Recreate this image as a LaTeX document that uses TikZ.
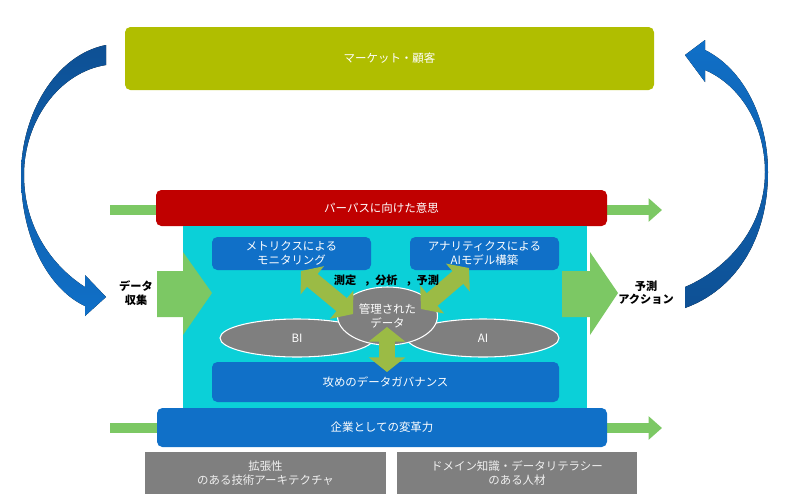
\documentclass[tikz,border=0pt]{standalone}
\usepackage{fontspec}
\setmainfont{Noto Sans CJK JP}
\usetikzlibrary{arrows.meta, positioning, shapes.geometric}
\definecolor{mkolive}{RGB}{176,190,0}
\definecolor{mkred}{RGB}{192,0,0}
\definecolor{mkcyan}{RGB}{11,208,216}
\definecolor{mkblue}{RGB}{16,112,200}
\definecolor{mkdark}{RGB}{14,80,148}
\definecolor{mkgreen}{RGB}{124,200,100}
\definecolor{mkleaf}{RGB}{155,187,69}
\definecolor{mkgray}{RGB}{127,127,127}
\tikzset{
  sz/.style 2 args={minimum width=#1*0.75pt, minimum height=#2*0.75pt},
  txt/.style={font=\fontsize{8.6}{10.4}\selectfont, text=white, align=center, inner sep=0pt},
  rbox/.style={txt, rounded corners=4pt},
  gbox/.style={txt, fill=mkgray, text=white!94!black},
  oval/.style={txt, ellipse, fill=mkgray, draw=white, line width=0.8pt},
  lbl/.style={font=\fontsize{8.4}{10}\selectfont\bfseries, align=center, inner sep=0pt},
  gbar/.style={mkgreen, line width=8pt},
  dbl/.style={mkleaf, line width=12.5pt, {Triangle[length=11pt,width=27pt]}-{Triangle[length=11pt,width=27pt]}}
}
\begin{document}
\begin{tikzpicture}[x=0.75pt, y=-0.75pt]
  \useasboundingbox (0,0) rectangle (800,501);

  % curved blue arrows
  \fill[top color=mkdark, bottom color=mkblue]
    (106,45) .. controls (55,55) and (21,115) .. (21,175)
    .. controls (21,240) and (50,290) .. (85,306) -- (85,316) -- (106,297) -- (85,275) -- (85,287)
    .. controls (55,268) and (24,230) .. (24,175)
    .. controls (24,120) and (60,72) .. (106,65) -- cycle;
  \fill[top color=mkblue, bottom color=mkdark]
    (705,50) .. controls (745,70) and (768,120) .. (768,172)
    .. controls (768,240) and (735,290) .. (685,308) -- (685,287)
    .. controls (725,270) and (765,230) .. (765,172)
    .. controls (765,125) and (740,85) .. (705,70) -- (705,82) -- (685,55) -- (705,40) -- cycle;

  % top box
  \node[rbox, sz={529}{63}, fill=mkolive] (market) at (389.5,58.5) {マーケット・顧客};

  % purpose bar
  \coordinate (barL1) at (110,210);
  \coordinate (barR1) at (662,210);
  \draw[gbar] (barL1) -- (156,210);
  \draw[gbar, -{Triangle[length=10pt,width=17pt]}] (607,210) -- (barR1);
  \node[rbox, sz={451}{36}, fill=mkred] (purpose) at (381.5,208) {パーパスに向けた意思};

  % cyan area
  \fill[mkcyan] (183,226) rectangle (587,408);

  % big green arrows
  \fill[mkgreen] (157,271) -- (183,271) -- (183,252) -- (212,293) -- (183,335) -- (183,317) -- (157,317) -- cycle;
  \fill[mkgreen] (562,271) -- (590,271) -- (590,252) -- (618,293) -- (590,335) -- (590,317) -- (562,317) -- cycle;
  \node[lbl] (lblcollect) at (136,293) {データ\\収集};
  \node[lbl] (lblaction) at (646,293) {予測\\アクション};

  % inner boxes
  \node[rbox, sz={159}{33}, fill=mkblue] (mon) at (291.5,253.5) {メトリクスによる\\モニタリング};
  \node[rbox, sz={149}{33}, fill=mkblue] (aimodel) at (484.5,253.5) {アナリティクスによる\\AIモデル構築};
  \node[rbox, sz={347}{40}, fill=mkblue] (gov) at (385.5,382) {攻めのデータガバナンス};

  % ellipses
  \node[oval, sz={154}{38}] (bi) at (297,338) {BI};
  \node[oval, sz={152}{38}] (ai) at (483,338) {AI};
  \node[oval, sz={100}{58}] (core) at (387.5,316) {管理された\\データ};

  % double arrows
  \coordinate (dl1) at (301,271);
  \coordinate (dl2) at (353,314);
  \coordinate (dr1) at (469,268);
  \coordinate (dr2) at (421,309);
  \coordinate (dv1) at (387,327);
  \coordinate (dv2) at (387,372);
  \draw[dbl] (dl1) -- (dl2);
  \draw[dbl] (dr1) -- (dr2);
  \draw[dbl] (dv1) -- (dv2);
  \node[lbl] (lblmeasure) at (386.5,281) {測定\hspace{0.7em}，分析\hspace{0.7em}，予測};

  % reform bar
  \coordinate (barL2) at (110,428);
  \coordinate (barR2) at (662,428);
  \draw[gbar] (barL2) -- (157,428);
  \draw[gbar, -{Triangle[length=10pt,width=17pt]}] (607,428) -- (barR2);
  \node[rbox, sz={450}{39}, fill=mkblue] (reform) at (382,427.5) {企業としての変革力};

  % foundations
  \node[gbox, sz={241}{42}] (arch) at (265.5,473) {拡張性\\のある技術アーキテクチャ};
  \node[gbox, sz={240}{42}] (talent) at (517,473) {ドメイン知識・データリテラシー\\のある人材};
\end{tikzpicture}
\end{document}
